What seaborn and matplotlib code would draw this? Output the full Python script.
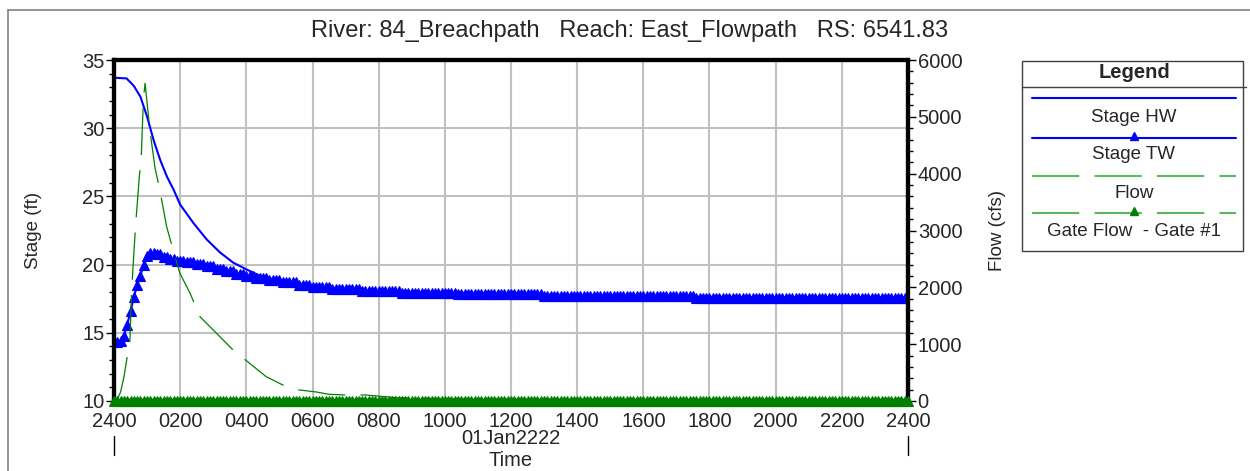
import numpy as np
import pandas as pd
import matplotlib
matplotlib.use("Agg")
import matplotlib.pyplot as plt
from matplotlib.lines import Line2D
from matplotlib.patches import Rectangle
from matplotlib.ticker import MultipleLocator, FixedLocator, FixedFormatter
import seaborn as sns

# ---------------- data (hours after 2400 on 31Dec) ----------------
title = "River: 84_Breachpath   Reach: East_Flowpath   RS: 6541.83"
x_tick_labels = ["2400", "0200", "0400", "0600", "0800", "1000", "1200",
                 "1400", "1600", "1800", "2000", "2200", "2400"]
date_label = "01Jan2222"

# Stage HW (ft)
hw_t = [0.0, 0.38, 0.6, 0.8, 1.0, 1.2, 1.4, 1.6, 1.8, 2.0, 2.4, 2.8, 3.2, 3.6,
        4.0, 4.4, 5.0, 6.0, 7.0, 8.0, 10.0, 13.0, 17.6, 24.0]
hw_stage = [33.7, 33.65, 33.1, 32.3, 30.85, 29.1, 27.65, 26.45, 25.5, 24.4,
            23.05, 21.85, 20.9, 20.15, 19.65, 19.2, 18.8, 18.45, 18.2, 18.05,
            17.95, 17.8, 17.65, 17.55]

# Stage TW (ft): step levels held from each start time, output every 0.1 h
tw_step_start = [0.0, 0.1, 0.2, 0.3, 0.4, 0.5, 0.6, 0.7, 0.8, 0.9, 1.0, 1.1,
                 1.3, 1.5, 1.7, 1.9, 2.2, 2.5, 2.8, 3.1, 3.4, 3.7, 4.0, 4.3,
                 4.7, 5.1, 5.6, 6.0, 6.6, 7.5, 8.7, 10.4, 13.0, 17.6]
tw_step_level = [14.3, 14.3, 14.4, 14.8, 15.6, 16.6, 17.6, 18.5, 19.2, 20.0,
                 20.6, 20.85, 20.75, 20.55, 20.4, 20.25, 20.18, 20.05, 19.9,
                 19.7, 19.5, 19.3, 19.13, 19.0, 18.85, 18.7, 18.5, 18.37,
                 18.23, 18.07, 17.95, 17.83, 17.7, 17.56]

# Flow (cfs)
flow_t = [0.0, 0.1, 0.2, 0.3, 0.4, 0.48, 0.53, 0.6, 0.66, 0.77, 0.82, 0.89,
          0.94, 1.09, 1.24, 1.39, 1.59, 1.79, 1.99, 2.3, 2.6, 3.1, 3.6, 4.1,
          4.6, 5.1, 5.6, 6.1, 6.5, 7.0, 7.6, 8.5, 10.0, 14.0, 24.0]
flow = [0, 30, 160, 420, 780, 1050, 1900, 2600, 3150, 3980, 4240, 5330, 5590,
        4740, 4100, 3700, 3070, 2650, 2250, 1895, 1483, 1191, 897, 663, 428,
        282, 194, 160, 118, 106, 106, 60, 40, 30, 20]

# Gate Flow - Gate #1 (cfs), constant 0
gate_flow_level = 0.0

# ---------------- build series ----------------
out_t = np.round(np.arange(0, 240 + 1) * 0.1, 1)
idx = np.searchsorted(np.array(tw_step_start), out_t + 1e-9, side="right") - 1
tw_df = pd.DataFrame({"t": out_t, "stage": np.array(tw_step_level)[idx]})
hw_df = pd.DataFrame({"t": hw_t, "stage": hw_stage})
flow_df = pd.DataFrame({"t": flow_t, "flow": flow})
gate_df = pd.DataFrame({"t": out_t, "flow": np.full(len(out_t), gate_flow_level)})

# ---------------- style ----------------
sns.set_style("white")
plt.rcParams["font.family"] = ["Liberation Sans", "DejaVu Sans"]
plt.rcParams["lines.scale_dashes"] = False
FS = 13.5
TFS = 14.5

W, H = 1250, 471
fig = plt.figure(figsize=(W / 100, H / 100), dpi=100)
def fx(px): return px / W
def fy(py): return 1 - py / H

ax = fig.add_axes([fx(114), fy(401), fx(908) - fx(114), fy(60) - fy(401)])
ax2 = ax.twinx()

BLUE = "#0000ff"
GREEN = "#008000"
DASH = (0, (34, 11))

sns.lineplot(data=hw_df, x="t", y="stage", ax=ax, color=BLUE, lw=1.5,
             sort=False, estimator=None)
sns.lineplot(data=tw_df, x="t", y="stage", ax=ax, color=BLUE, lw=1.5,
             marker="^", markersize=7, markeredgecolor=BLUE,
             markerfacecolor=BLUE, markeredgewidth=0.8,
             sort=False, estimator=None)
sns.lineplot(data=flow_df, x="t", y="flow", ax=ax2, color=GREEN, lw=0.9,
             linestyle=DASH, sort=False, estimator=None)
sns.lineplot(data=gate_df, x="t", y="flow", ax=ax2, color=GREEN, lw=1.2,
             marker="^", markersize=7, markeredgecolor=GREEN,
             markerfacecolor=GREEN, markeredgewidth=0.8, linestyle=DASH,
             sort=False, estimator=None)
gate_line = ax2.lines[-1]
gate_line.set_clip_on(False)
gate_line.set_zorder(10)
for ln in ax.lines:
    ln.set_zorder(4)

ax.set_xlim(0, 24)
ax.set_ylim(10, 35)
ax2.set_ylim(0, 6000)

ax.xaxis.set_major_locator(FixedLocator(list(range(0, 25, 2))))
ax.xaxis.set_major_formatter(FixedFormatter(x_tick_labels))
ax.xaxis.set_minor_locator(MultipleLocator(1))
ax.yaxis.set_major_locator(MultipleLocator(5))
ax.yaxis.set_minor_locator(MultipleLocator(1))
ax2.yaxis.set_major_locator(MultipleLocator(1000))
ax2.yaxis.set_minor_locator(MultipleLocator(200))

ax.grid(True, which="major", color="#c0c0c0", lw=1.5)
ax.set_axisbelow(True)
ax2.grid(False)

for a in (ax, ax2):
    a.tick_params(which="major", direction="out", length=6, width=1,
                  labelsize=TFS, pad=1, color="black")
    a.tick_params(which="minor", direction="out", length=3.5, width=1,
                  color="black")
    a.set_xlabel("")
    a.set_ylabel("")
    for s in a.spines.values():
        s.set_linewidth(3)
        s.set_color("black")
        s.set_zorder(2)
ax.tick_params(axis="x", which="major", pad=2)
ax2.tick_params(axis="y", which="both", left=False, right=True)

ax.set_ylabel("Stage (ft)", fontsize=FS, labelpad=29)
ax2.set_ylabel("Flow (cfs)", fontsize=FS, labelpad=19)

# date span marks and labels
xt = ax.get_xaxis_transform()
for xv in (0, 24):
    ax.plot([xv, xv], [-0.102, -0.158], transform=xt, clip_on=False,
            color="black", lw=1)
ax.text(12, (402 - 440) / 341, date_label, transform=xt, ha="center",
        va="center", fontsize=TFS)
ax.text(12, (402 - 461) / 341, "Time", transform=xt, ha="center",
        va="center", fontsize=TFS)

fig.text(fx(630), fy(31), title, ha="center", va="center", fontsize=17)

# figure frame (gray)
fig.add_artist(Line2D([fx(8), 1], [fy(10), fy(10)], color="#808080", lw=1.2))
fig.add_artist(Line2D([fx(8), fx(8)], [fy(10), 0], color="#808080", lw=1.2))

# ---------------- legend (drawn as HEC-style box) ----------------
fig.add_artist(Rectangle((fx(1022), fy(251)), fx(1243) - fx(1022),
                         fy(61) - fy(251), fill=False, ec="#404040", lw=1))
fig.add_artist(Line2D([fx(1022), fx(1246)], [fy(87), fy(87)],
                      color="#404040", lw=1))
fig.text(fx(1134), fy(73), "Legend", ha="center", va="center",
         fontsize=14.5, fontweight="bold")
legend_items = [
    ("Stage HW", BLUE, "-", None, 98, 117),
    ("Stage TW", BLUE, "-", "^", 138, 155),
    ("Flow", "#5cb85c", DASH, None, 176, 193),
    ("Gate Flow  - Gate #1", "#5cb85c", DASH, "^", 213, 232),
]
for label, col, ls, mk, ly, ty in legend_items:
    fig.add_artist(Line2D([fx(1032), fx(1236)], [fy(ly), fy(ly)], color=col,
                          lw=1.5, linestyle=ls))
    if mk:
        mcol = BLUE if col == BLUE else GREEN
        fig.add_artist(Line2D([fx(1134)], [fy(ly - 2)], marker=mk,
                              markersize=6, color=mcol, lw=0))
    fig.text(fx(1134), fy(ty), label, ha="center", va="center", fontsize=FS)

fig.savefig("out.png", dpi=100)
